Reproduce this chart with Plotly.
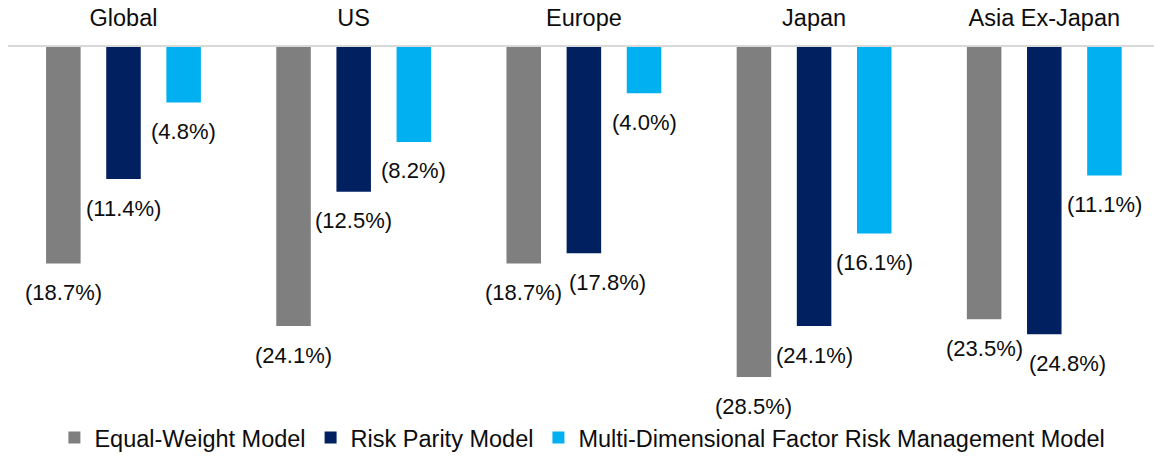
import plotly.graph_objects as go

# Drawdown by region for three portfolio construction models (negative = loss, %)
regions = ["Global", "US", "Europe", "Japan", "Asia Ex-Japan"]
series_names = ["Equal-Weight Model", "Risk Parity Model",
                "Multi-Dimensional Factor Risk Management Model"]
equal_weight = [-18.7, -24.1, -18.7, -28.5, -23.5]
risk_parity = [-11.4, -12.5, -17.8, -24.1, -24.8]
multi_factor = [-4.8, -8.2, -4.0, -16.1, -11.1]

series_values = [equal_weight, risk_parity, multi_factor]
colors = ["#7f7f7f", "#002060", "#00b0f0"]

FONT = "Liberation Sans, Arial, sans-serif"
TEXT_COLOR = "#0d0d0d"

# bar geometry in category units (one region = 1 unit)
slot = 0.2613
bar_width = 0.15
offsets = [-slot, 0.0, slot]

# horizontal nudges (px) for labels that would collide with a neighbour
label_nudge = {(2, 1): 23.5, (4, 1): 23.5}

fig = go.Figure()
annotations = []
for s, (name, vals, col, off) in enumerate(zip(series_names, series_values, colors, offsets)):
    xs = [i + off for i in range(len(regions))]
    fig.add_trace(go.Bar(
        x=xs, y=vals, name=name, width=bar_width,
        marker=dict(color=col, line=dict(width=0)),
        hoverinfo="skip",
    ))
    for i, (x, v) in enumerate(zip(xs, vals)):
        annotations.append(dict(
            x=x, y=v, xref="x", yref="y",
            text=f"({abs(v):.1f}%)", showarrow=False,
            xanchor="center", yanchor="middle",
            yshift=-29, xshift=label_nudge.get((i, s), 0),
            font=dict(family=FONT, size=22, color=TEXT_COLOR),
        ))

fig.update_layout(
    width=1154, height=460,
    margin=dict(l=8, r=0, t=47, b=40),
    paper_bgcolor="white", plot_bgcolor="white",
    barmode="overlay",
    showlegend=True,
    legend=dict(
        orientation="h", x=0.0405, xanchor="left", y=-0.056, yanchor="middle",
        font=dict(family=FONT, size=23.5, color=TEXT_COLOR),
        itemclick=False, itemdoubleclick=False,
        traceorder="normal",
    ),
    annotations=annotations,
    font=dict(family=FONT, color=TEXT_COLOR),
)

fig.update_xaxes(
    range=[-0.5017, 4.4766],
    side="top",
    tickmode="array", tickvals=list(range(len(regions))), ticktext=regions,
    tickfont=dict(family=FONT, size=23.5, color=TEXT_COLOR),
    ticks="", ticklabelstandoff=10,
    showline=True, linecolor="#d9d9d9", linewidth=1.5,
    showgrid=False, zeroline=False,
)
fig.update_yaxes(
    range=[-31.95, 0],
    showticklabels=False, showgrid=False, zeroline=False, showline=False,
)

fig.write_html("out.html")
